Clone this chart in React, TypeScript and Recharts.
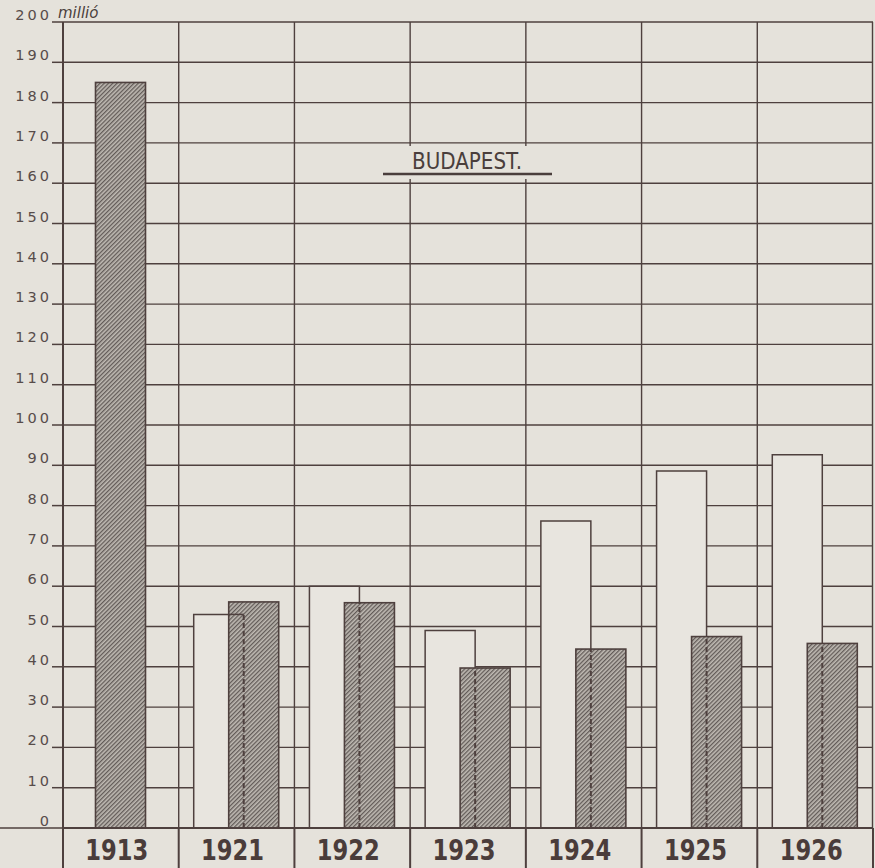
import React from 'react';
import { BarChart, Bar, XAxis, YAxis, CartesianGrid } from 'recharts';

// Budapest, millió — two series per year, 1913 only has the hatched one
const years = ['1913', '1921', '1922', '1923', '1924', '1925', '1926'];
const whiteValues = [null, 53, 60, 49, 76.2, 88.6, 92.6];
const hatchedValues = [185, 56.1, 55.9, 39.7, 44.4, 47.5, 45.8];
const yTicks = [0, 10, 20, 30, 40, 50, 60, 70, 80, 90, 100, 110, 120, 130, 140, 150, 160, 170, 180, 190, 200];

const data = years.map((year, i) => ({ year, white: whiteValues[i], hatched: hatchedValues[i] }));

const W = 875;
const H = 868;
const LEFT = 63;
const RIGHT = 2;
const TOP = 22;
const XAXIS_H = 40;
const PLOT_W = W - LEFT - RIGHT;
const PLOT_BOTTOM = H - XAXIS_H;
const BAND = PLOT_W / years.length;

const BAR = 50;
const OVERLAP = 15;

const PAPER = '#e5e2db';
const INK = '#4e403e';
const LABEL = '#574c4a';

const YTick = (props: any) => {
  const { y, payload } = props;
  const v = payload.value;
  return (
    <g>
      <line x1={v === 0 ? 0 : 52} x2={LEFT} y1={y} y2={y} stroke={INK} strokeWidth={1.5} />
      <text
        x={52}
        y={y - 2}
        textAnchor="end"
        fontFamily="DejaVu Sans, sans-serif"
        fontSize={14.5}
        letterSpacing={3}
        fill={LABEL}
      >
        {v}
      </text>
    </g>
  );
};

const XTick = (props: any) => {
  const { x, payload } = props;
  const idx = years.indexOf(payload.value);
  const left = x - BAND / 2;
  return (
    <g>
      <line x1={left} x2={left} y1={PLOT_BOTTOM} y2={H} stroke={INK} strokeWidth={2} />
      {idx === years.length - 1 && (
        <line x1={x + BAND / 2} x2={x + BAND / 2} y1={PLOT_BOTTOM} y2={H} stroke={INK} strokeWidth={2} />
      )}
      <text
        x={x - 4}
        y={860}
        textAnchor="middle"
        fontFamily="DejaVu Sans Condensed, DejaVu Sans, sans-serif"
        fontWeight="bold"
        fontSize={28}
        textLength={63}
        lengthAdjust="spacingAndGlyphs"
        fill="#4a3c3a"
      >
        {payload.value}
      </text>
    </g>
  );
};

const HatchedShape = (props: any) => {
  const { y, width, height, payload } = props;
  if (height == null || height <= 0) return null;
  const hasWhite = payload.white != null;
  // without a white partner the bar sits in the middle of its year
  const x = hasWhite ? props.x : props.x - (BAR - OVERLAP) / 2;
  const bottom = y + height;
  const perUnit = height / payload.hatched;
  const whiteTop = hasWhite ? bottom - payload.white * perUnit : bottom;
  const edge = x + OVERLAP;
  return (
    <g>
      <rect x={x} y={y} width={width} height={height} fill="url(#hatch)" stroke={INK} strokeWidth={1.6} />
      {hasWhite && (
        <line
          x1={edge}
          x2={edge}
          y1={bottom}
          y2={Math.max(y, whiteTop)}
          stroke={INK}
          strokeWidth={2}
          strokeDasharray="5 3"
        />
      )}
      {hasWhite && whiteTop > y && (
        <line x1={x} x2={edge} y1={whiteTop} y2={whiteTop} stroke={INK} strokeWidth={1.5} />
      )}
    </g>
  );
};

const boundaries = (p: any) => {
  const left = p?.offset?.left ?? LEFT;
  const width = p?.offset?.width ?? PLOT_W;
  const step = width / years.length;
  return years.map((_, i) => left + i * step).concat([left + width - 0.5]);
};

export default function App() {
  return (
    <div style={{ position: 'absolute', left: 0, top: 0, width: W, height: H, background: PAPER, overflow: 'hidden' }}>
      <svg width={0} height={0} style={{ position: 'absolute' }}>
        <defs>
          <pattern id="hatch" patternUnits="userSpaceOnUse" width={3} height={3} patternTransform="rotate(45)">
            <rect width={3} height={3} fill="#bfbab3" />
            <rect x={0} y={0} width={1.3} height={3} fill="#625b58" />
          </pattern>
        </defs>
      </svg>
      <BarChart
        width={W}
        height={H}
        data={data}
        margin={{ top: TOP, right: RIGHT, bottom: 0, left: 0 }}
        barGap={-OVERLAP}
        barSize={BAR}
      >
        <CartesianGrid
          stroke={INK}
          strokeWidth={1.4}
          strokeDasharray=""
          verticalCoordinatesGenerator={boundaries}
        />
        <XAxis
          dataKey="year"
          height={XAXIS_H}
          interval={0}
          tickLine={false}
          axisLine={{ stroke: INK, strokeWidth: 2 }}
          tick={<XTick />}
        />
        <YAxis
          width={LEFT}
          domain={[0, 200]}
          ticks={yTicks}
          interval={0}
          tickLine={false}
          axisLine={{ stroke: INK, strokeWidth: 2 }}
          tick={<YTick />}
        />
        <Bar dataKey="white" fill="#e8e5df" stroke={INK} strokeWidth={1.5} isAnimationActive={false} />
        <Bar dataKey="hatched" shape={HatchedShape} isAnimationActive={false} />
      </BarChart>
      <svg width={W} height={H} style={{ position: 'absolute', left: 0, top: 0, pointerEvents: 'none' }}>
        <text x={58} y={18} fontFamily="DejaVu Sans, sans-serif" fontStyle="italic" fontSize={15} fill="#4a3e3c">
          millió
        </text>
        <rect x={383} y={146} width={170} height={33} fill={PAPER} />
        <text
          x={412}
          y={169}
          fontFamily="DejaVu Sans Condensed, DejaVu Sans, sans-serif"
          fontSize={23}
          textLength={110}
          lengthAdjust="spacingAndGlyphs"
          fill="#4a3e3c"
        >
          BUDAPEST.
        </text>
        <line x1={383} x2={552} y1={174} y2={174} stroke="#4a3e3c" strokeWidth={2.5} />
      </svg>
    </div>
  );
}
